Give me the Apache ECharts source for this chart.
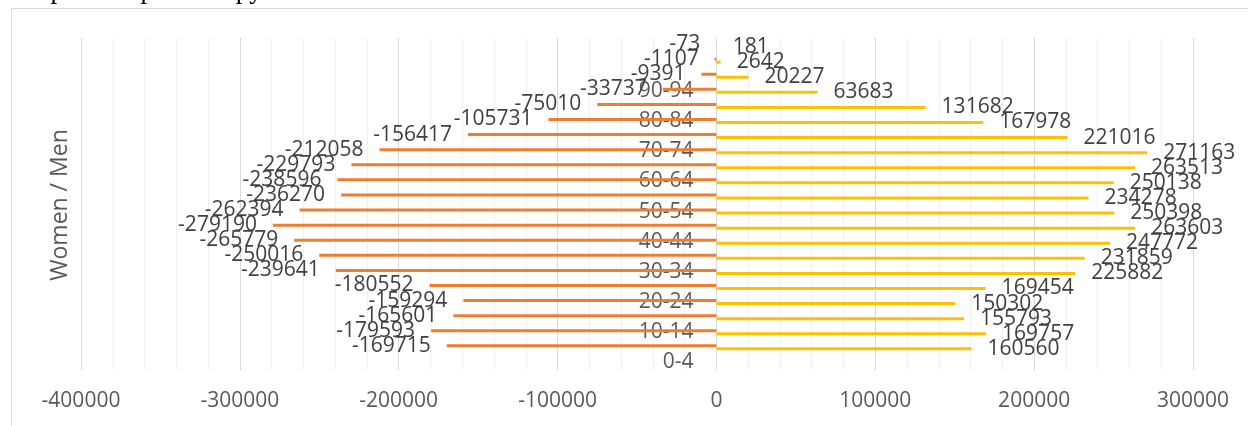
<!DOCTYPE html>
<html>
<head>
<meta charset="utf-8">
<script src="https://cdn.jsdelivr.net/npm/echarts@6/dist/echarts.min.js"></script>
<style>html,body{margin:0;padding:0;background:#fff}#c{width:1248px;height:426px}</style>
</head>
<body>
<div id="c"></div>
<script>
// Category rows of the source chart (22 rows; labels are one row below the data, as in the reference)
const tickLabels = ['0-4','5-9','10-14','15-19','20-24','25-29','30-34','35-39','40-44','45-49','50-54','55-59','60-64','65-69','70-74','75-79','80-84','85-89','90-94','95-99','',''];
// Women (negative) by age group, youngest first
const women = [-169715,-179593,-165601,-159294,-180552,-239641,-250016,-265779,-279190,-262394,-236270,-238596,-229793,-212058,-156417,-105731,-75010,-33737,-9391,-1107,-73];
// Men by age group, youngest first
const men = [160560,169757,155793,150302,169454,225882,231859,247772,263603,250398,234278,250138,263513,271163,221016,167978,131682,63683,20227,2642,181];
const xTicks = {min:-400000, max:300000, interval:100000};

const womenData = [null].concat(women);
const menData = [null].concat(men);

const FONT = 'Open Sans';
const GRID_LEFT = 81;
const chart = echarts.init(document.getElementById('c'), null, {renderer:'canvas'});
const option = {
  animation:false,
  backgroundColor:'#fff',
  grid:{left:GRID_LEFT, right:55, top:38, bottom:56, containLabel:false},
  xAxis:{
    type:'value', min:xTicks.min, max:xTicks.max, interval:xTicks.interval,
    axisLine:{show:false}, axisTick:{show:false},
    axisLabel:{color:'#595959', fontFamily:FONT, fontSize:21, margin:21, formatter:v => String(v)},
    splitLine:{show:true, lineStyle:{color:'#d9d9d9', width:1}},
    minorTick:{show:true, splitNumber:5, length:0, lineStyle:{color:'rgba(0,0,0,0)'}},
    minorSplitLine:{show:true, lineStyle:{color:'#f0f0f0', width:1}}
  },
  yAxis:{
    type:'category', data:tickLabels,
    axisLine:{show:true, onZero:false, lineStyle:{color:'#d9d9d9'}},
    axisTick:{show:false},
    axisLabel:{interval:1, color:'#595959', fontFamily:FONT, fontSize:21, margin:23},
    splitLine:{show:false}
  },
  series:[
    {name:'Women', type:'bar', data:womenData, barWidth:3, barGap:'0%',
     itemStyle:{color:'#ED7D31'},
     label:{show:true, position:'left', distance:16, color:'#404040', fontFamily:FONT, fontSize:21}},
    {name:'Men', type:'bar', data:menData, barWidth:3, barGap:'0%',
     itemStyle:{color:'#FFC000'},
     label:{show:true, position:'right', distance:16, color:'#404040', fontFamily:FONT, fontSize:21}}
  ],
  graphic:[
    {type:'rect', shape:{x:11.5, y:8.5, width:1400, height:600}, style:{fill:'none', stroke:'#d9d9d9', lineWidth:1}, silent:true, z:-1},
    {type:'text', x:10, y:-9, style:{text:'Graph 3: Population pyramid 2018', font:'27px "Liberation Serif"', fill:'#000', verticalAlign:'middle', align:'left'}},
    {type:'text', x:60, y:205, rotation:Math.PI/2, style:{text:'Women / Men', font:'23px "Open Sans"', fill:'#595959', align:'center', verticalAlign:'middle'}}
  ]
};
chart.setOption(option);
// place the category axis (line + labels) on the value axis zero, using the library's scale
const zeroX = chart.convertToPixel({xAxisIndex:0}, 0);
chart.setOption({yAxis:{offset:-(zeroX - GRID_LEFT)}});
</script>
</body>
</html>
